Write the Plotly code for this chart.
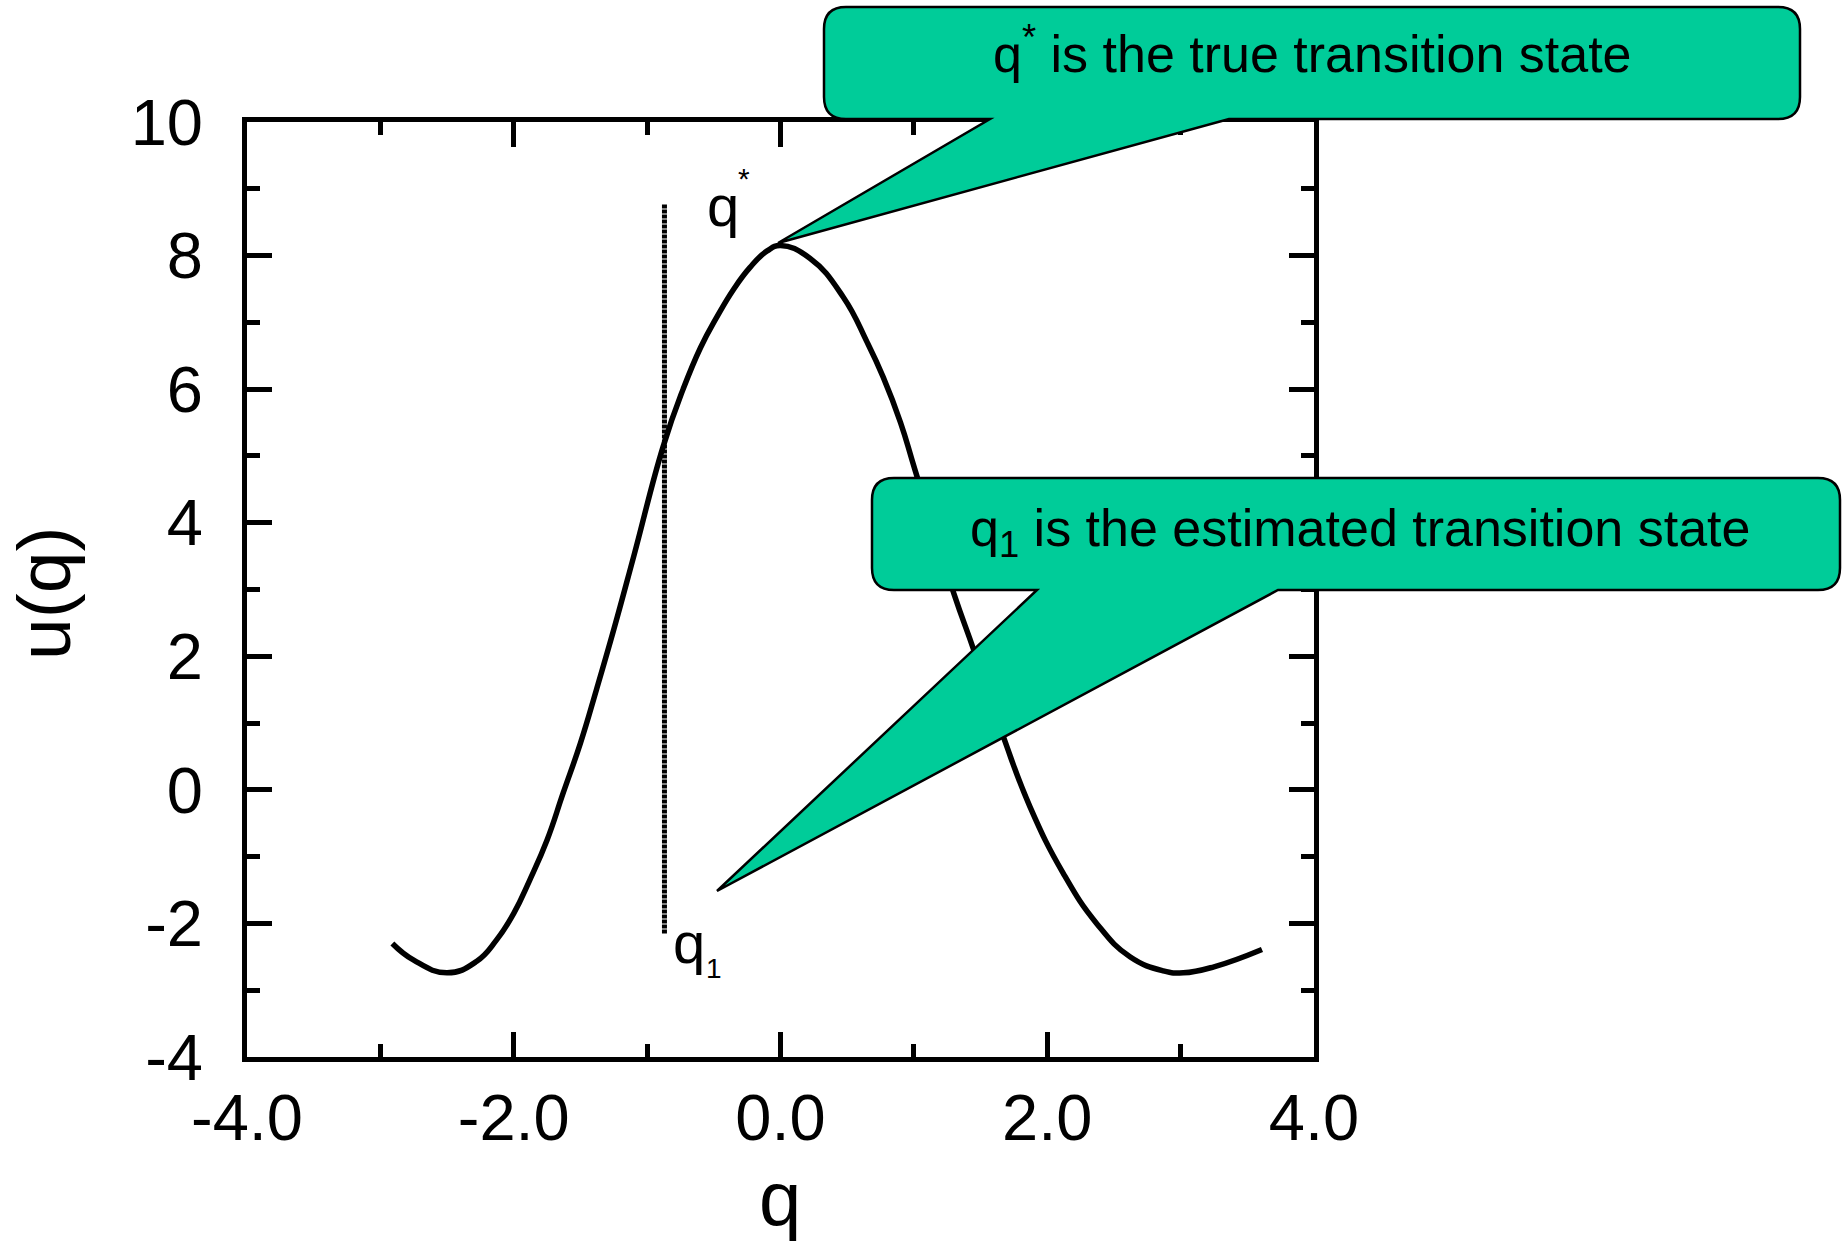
import plotly.graph_objects as go

# Potential energy profile u(q)
q_vals = [-2.91, -2.75, -2.50, -2.28, -2.13, -2.00, -1.88, -1.75, -1.63, -1.50,
          -1.38, -1.25, -1.10, -0.88, -0.73, -0.60, -0.48, -0.35, -0.23, -0.10,
          0.00, 0.22, 0.47, 0.65, 0.77, 0.90, 1.01, 1.30, 1.45,
          1.67, 1.87, 2.12, 2.37, 2.62, 2.87, 3.02, 3.25, 3.61]
u_vals = [-2.30, -2.55, -2.74, -2.57, -2.25, -1.85, -1.35, -0.75, -0.05, 0.70,
          1.50, 2.40, 3.50, 5.14, 6.00, 6.62, 7.07, 7.50, 7.82, 8.07,
          8.15, 7.96, 7.38, 6.70, 6.18, 5.50, 4.78, 2.94, 2.09,
          0.80, -0.25, -1.25, -2.00, -2.50, -2.71, -2.74, -2.65, -2.39]

# Estimated transition state q1 (dotted guide)
q1_pos = -0.87
q1_span = [-2.15, 8.78]

# Axis ticks
x_tickvals = [-4, -2, 0, 2, 4]
x_ticktext = ["-4.0", "-2.0", "0.0", "2.0", "4.0"]
x_minor = [-3, -1, 1, 3]
y_tickvals = [-4, -2, 0, 2, 4, 6, 8, 10]
y_ticktext = ["-4", "-2", "0", "2", "4", "6", "8", "10"]
y_minor = [-3, -1, 1, 3, 5, 7, 9]

callout_texts = ["q<sup>*</sup> is the true transition state",
                 "q<sub>1</sub> is the estimated transition state"]

FONT = "Liberation Sans, Arial, sans-serif"
W, H = 1843, 1247
ML, MR, MT, MB = 247, 529, 122, 190
PW, PH = W - ML - MR, H - MT - MB
GREEN = "#00CC99"


def to_paper(px, py):
    return (px - ML) / PW, (H - MB - py) / PH


def callout_path(x0, y0, x1, y1, r, base_l, base_r, tip):
    pts = [
        ("M", [(x0 + r, y0)]),
        ("L", [(x1 - r, y0)]),
        ("Q", [(x1, y0), (x1, y0 + r)]),
        ("L", [(x1, y1 - r)]),
        ("Q", [(x1, y1), (x1 - r, y1)]),
        ("L", [(base_r, y1)]),
        ("L", [tip]),
        ("L", [(base_l, y1)]),
        ("L", [(x0 + r, y1)]),
        ("Q", [(x0, y1), (x0, y1 - r)]),
        ("L", [(x0, y0 + r)]),
        ("Q", [(x0, y0), (x0 + r, y0)]),
    ]
    parts = []
    for cmd, coords in pts:
        cs = []
        for (px, py) in coords:
            xp, yp = to_paper(px, py)
            cs.append(f"{xp:.5f},{yp:.5f}")
        parts.append(cmd + " " + " ".join(cs))
    return " ".join(parts) + " Z"


fig = go.Figure()

fig.add_trace(go.Scatter(
    x=q_vals, y=u_vals, mode="lines",
    line=dict(color="black", width=5.5, shape="spline", smoothing=1.3),
    showlegend=False, hoverinfo="skip"))

fig.add_trace(go.Scatter(
    x=[q1_pos, q1_pos], y=q1_span, mode="lines",
    line=dict(color="black", width=5, dash="4px,1px"),
    showlegend=False, hoverinfo="skip"))

axis_common = dict(
    showline=True, linecolor="black", linewidth=5, mirror="ticks",
    ticks="inside", ticklen=25, tickwidth=5, tickcolor="black",
    showgrid=False, zeroline=False,
    tickfont=dict(family=FONT, size=65, color="black"),
)

fig.update_xaxes(range=[-4, 4], tickmode="array", tickvals=x_tickvals,
                 ticktext=x_ticktext, ticklabelstandoff=0,
                 minor=dict(tickmode="array", tickvals=x_minor, ticks="inside",
                            ticklen=13, tickwidth=5, tickcolor="black",
                            showgrid=False),
                 **axis_common)
fig.update_yaxes(range=[-4, 10], tickmode="array", tickvals=y_tickvals,
                 ticktext=y_ticktext, ticklabelstandoff=26,
                 minor=dict(tickmode="array", tickvals=y_minor, ticks="inside",
                            ticklen=13, tickwidth=5, tickcolor="black",
                            showgrid=False),
                 **axis_common)

# Speech-bubble callouts
shapes = [
    dict(type="path", xref="paper", yref="paper", layer="above",
         path=callout_path(824, 7, 1800, 119, 22, 990, 1229, (778, 243)),
         fillcolor=GREEN, line=dict(color="black", width=2.5)),
    dict(type="path", xref="paper", yref="paper", layer="above",
         path=callout_path(872, 478, 1840, 590, 22, 1037, 1278, (717, 891)),
         fillcolor=GREEN, line=dict(color="black", width=2.5)),
]

annotations = []


def add_text(text, px, py, size, xanchor="center", angle=0):
    xp, yp = to_paper(px, py)
    annotations.append(dict(
        text=text, x=xp, y=yp, xref="paper", yref="paper",
        xanchor=xanchor, yanchor="middle", showarrow=False,
        textangle=angle, font=dict(family=FONT, size=size, color="black")))


add_text(callout_texts[0], 1312, 50, 52)
add_text(callout_texts[1], 1360, 532, 52)

# Point labels
add_text("q", 705, 205, 58, xanchor="left")
add_text("*", 744, 178, 30)
add_text("q", 671, 942, 58, xanchor="left")
add_text("1", 714, 968, 28)

# Axis titles
add_text("q", 780, 1198, 76)
add_text("u(q)", 44, 594, 75, angle=-90)

fig.update_layout(
    width=W, height=H,
    margin=dict(l=ML, r=MR, t=MT, b=MB, pad=0),
    paper_bgcolor="white", plot_bgcolor="white",
    shapes=shapes, annotations=annotations,
    font=dict(family=FONT, color="black"),
)

fig.write_html("out.html")
